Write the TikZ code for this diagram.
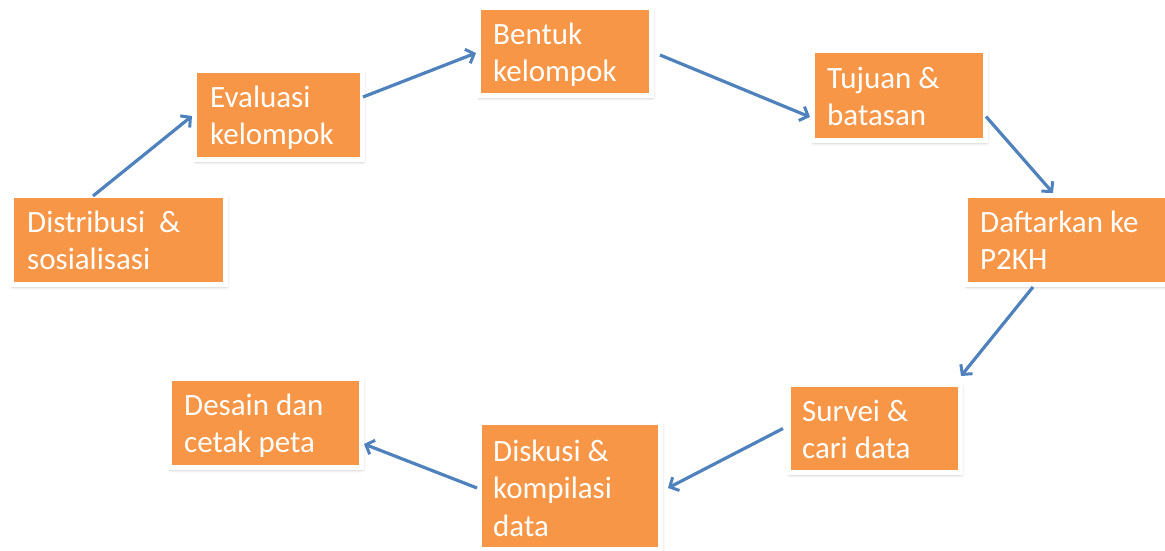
\documentclass[tikz,border=0pt]{standalone}
\usepackage{fontspec}
\setmainfont{Carlito}
\usetikzlibrary{arrows.meta,calc,shadows.blur}
\definecolor{boxorange}{HTML}{F79646}
\definecolor{arrowblue}{HTML}{4F81BD}
\tikzset{
  box/.style={rectangle, fill=boxorange, draw=white, line width=5pt, inner sep=0pt,
    blur shadow={shadow xshift=1pt, shadow yshift=-2pt, shadow blur radius=3pt, shadow opacity=35}},
  txt/.style={anchor=base west, text=white, font=\fontsize{31}{37.5}\selectfont, align=left, inner sep=0pt},
  conn/.style={draw=arrowblue, line width=3.2pt, -{Straight Barb[length=7pt,width=15pt,line width=3pt]}}
}
\begin{document}
\begin{tikzpicture}[x=1pt,y=-1pt]
\useasboundingbox (0,0) rectangle (1165,551);
\begin{scope}
\clip (0,0) rectangle (1165,551);
\node[box, minimum width=214pt, minimum height=89pt] (b1) at (118.5,240) {};
\node[box, minimum width=168pt, minimum height=89pt] (b2) at (278.5,115) {};
\node[box, minimum width=173pt, minimum height=88pt] (b3) at (565,51.5) {};
\node[box, minimum width=173pt, minimum height=90pt] (b4) at (899,95.5) {};
\node[box, minimum width=210pt, minimum height=89pt] (b5) at (1070.5,240) {};
\node[box, minimum width=172pt, minimum height=88pt] (b6) at (874.5,428.5) {};
\node[box, minimum width=181pt, minimum height=127pt] (b7) at (570,486) {};
\node[box, minimum width=192pt, minimum height=89pt] (b8) at (265.5,423) {};
\end{scope}
\node[txt] (t1) at (27,269.5) {Distribusi\ \ \&\\sosialisasi};
\node[txt] (t2) at (210,144.5) {Evaluasi\\kelompok};
\node[txt] (t3) at (493,81.5) {Bentuk\\kelompok};
\node[txt] (t4) at (827,125.5) {Tujuan \&\\batasan};
\node[txt] (t5) at (980,269.5) {Daftarkan ke\\P2KH};
\node[txt] (t6) at (802,458.5) {Survei \&\\cari data};
\node[txt] (t7) at (493,536) {Diskusi \&\\kompilasi\\data};
\node[txt] (t8) at (184,452.5) {Desain dan\\cetak peta};
\draw[conn] ($(b1.north)+(-25.5,3)$) -- ($(b2.west)+(0,1)$);
\draw[conn] ($(b2.east)+(-2,-18)$) -- ($(b3.west)+(0,1.5)$);
\draw[conn] ($(b3.east)+(6,3.5)$) -- ($(b4.west)+(0,21.5)$);
\draw[conn] ($(b4.east)+(-2,21)$) -- ($(b5.north)+(-17.5,0)$);
\draw[conn] ($(b5.south)+(-37.5,0)$) -- ($(b6.north east)+(-2,-6)$);
\draw[conn] ($(b6.west)+(-3,0)$) -- ($(b7.east)+(5,2)$);
\draw[conn] ($(b7.west)+(0,2)$) -- ($(b8.east)+(0,21)$);
\end{tikzpicture}
\end{document}
